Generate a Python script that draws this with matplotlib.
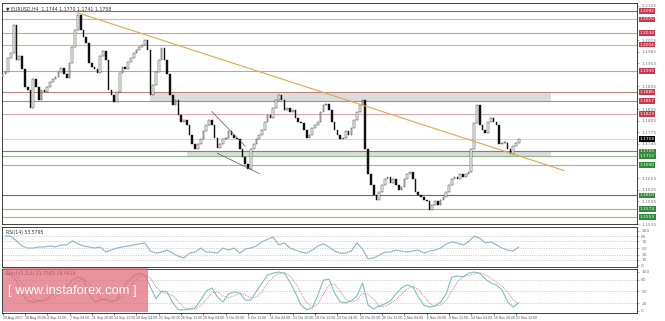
import matplotlib
matplotlib.use("Agg")
import matplotlib.pyplot as plt
import matplotlib.transforms as mtransforms
from matplotlib.patches import Rectangle

# EURUSD H4, one close every 2 bars
closes = [
    1.1926, 1.1933, 1.1970, 1.1983, 1.2056, 1.1965, 1.1973, 1.1939, 1.1894, 1.1886,
    1.1839, 1.1913, 1.1894, 1.1860, 1.1886, 1.1881, 1.1892, 1.1905, 1.1913, 1.1920,
    1.1933, 1.1944, 1.1926, 1.1918, 1.1957, 1.1999, 1.2043, 1.2082, 1.2043, 1.2025,
    1.2009, 1.1957, 1.1946, 1.1939, 1.1931, 1.1973, 1.1986, 1.1965, 1.1886, 1.1873,
    1.1855, 1.1881, 1.1931, 1.1946, 1.1939, 1.1959, 1.1970, 1.1983, 1.1991, 1.1999,
    1.2004, 1.2017, 1.1991, 1.1873, 1.1899, 1.1933, 1.1965, 1.1996, 1.1965, 1.1926,
    1.1873, 1.1847, 1.1860,
    1.1821, 1.1803, 1.1808, 1.1795, 1.1769, 1.1743, 1.1730, 1.1743, 1.1756,
    1.1777, 1.1795, 1.1808, 1.1795, 1.1761, 1.1735, 1.1743, 1.1756, 1.1761,
    1.1777, 1.1769, 1.1761, 1.1756, 1.1730, 1.1709, 1.1691, 1.1678, 1.1730,
    1.1743, 1.1756, 1.1769, 1.1782, 1.1803, 1.1821, 1.1813, 1.1839, 1.1860,
    1.1873, 1.1860, 1.1834, 1.1839, 1.1829, 1.1834, 1.1813, 1.1803, 1.1798,
    1.1782, 1.1761, 1.1769, 1.1787, 1.1795, 1.1803, 1.1829, 1.1847, 1.1850,
    1.1834, 1.1803, 1.1782, 1.1769, 1.1756, 1.1761, 1.1777, 1.1769, 1.1787,
    1.1808, 1.1829, 1.1847, 1.1860, 1.1730, 1.1665, 1.1638, 1.1612, 1.1599,
    1.1620, 1.1638, 1.1652, 1.1657, 1.1641, 1.1652, 1.1638, 1.1625, 1.1631,
    1.1652, 1.1665, 1.1672, 1.1652, 1.1620, 1.1612, 1.1605, 1.1599, 1.1594,
    1.1573, 1.1586, 1.1594, 1.1586, 1.1599, 1.1605, 1.1620, 1.1638, 1.1652,
    1.1657, 1.1652, 1.1665, 1.1657, 1.1665, 1.1672, 1.1730, 1.1800, 1.1847,
    1.1795, 1.1782, 1.1774, 1.1803, 1.1813, 1.1803, 1.1795, 1.1743, 1.1748,
    1.1748, 1.1730, 1.1717, 1.1738, 1.1748, 1.1758,
]
first_open = 1.1920

# one value every 4 bars
rsi = [85, 85, 71, 56, 50, 50, 53, 53, 56, 53, 59, 59, 71, 62, 56, 53, 50, 53, 38, 44,
       50, 53, 56, 59, 62, 65, 41, 35, 38, 44, 35, 26, 21, 35, 38, 50, 38, 38, 35, 50,
       44, 50, 35, 47, 50, 56, 68, 76, 82, 59, 65, 50, 44, 38, 35, 44, 56, 62, 53, 41,
       35, 35, 41, 65, 47, 18, 21, 29, 38, 38, 44, 41, 38, 41, 44, 35, 41, 44, 50, 62,
       68, 65, 59, 68, 85, 79, 65, 68, 59, 50, 44, 41, 53]
stoch_main = [97, 92, 77, 44, 26, 23, 26, 28, 38, 46, 51, 64, 79, 87, 82, 44, 23, 28, 31, 23,
              28, 59, 77, 90, 97, 92, 62, 31, 51, 49, 21, 3, 3, 5, 8, 28, 51, 59, 36, 23,
              44, 49, 46, 28, 28, 51, 72, 92, 97, 100, 97, 74, 46, 15, 3, 8, 41, 79, 82, 46,
              23, 21, 26, 38, 72, 15, 5, 13, 18, 26, 44, 59, 67, 62, 36, 15, 10, 13, 23, 44,
              87, 90, 87, 97, 100, 97, 82, 72, 67, 54, 23, 10, 21]
stoch_signal = [95, 95, 89, 71, 49, 31, 25, 26, 31, 37, 45, 54, 65, 77, 83, 71, 50, 32, 27, 27,
                27, 37, 55, 75, 88, 93, 84, 62, 48, 44, 40, 24, 9, 4, 5, 14, 29, 46, 49, 39,
                34, 39, 46, 41, 34, 36, 50, 72, 87, 96, 98, 90, 72, 45, 21, 9, 17, 43, 67, 69,
                50, 30, 23, 28, 45, 42, 31, 11, 12, 19, 29, 43, 57, 63, 55, 38, 20, 13, 15, 27,
                51, 74, 88, 91, 95, 98, 93, 84, 74, 64, 48, 29, 18]

date_labels = ["28 Aug 2017", "30 Aug 20:00", "4 Sep 12:00", "7 Sep 04:00", "11 Sep 20:00",
               "14 Sep 12:00", "19 Sep 04:00", "21 Sep 20:00", "26 Sep 12:00", "29 Sep 04:00",
               "3 Oct 20:00", "6 Oct 12:00", "11 Oct 04:00", "13 Oct 20:00", "18 Oct 12:00",
               "23 Oct 04:00", "25 Oct 20:00", "30 Oct 12:00", "2 Nov 04:00", "6 Nov 20:00",
               "9 Nov 12:00", "14 Nov 04:00", "16 Nov 20:00", "21 Nov 12:00"]

resistances = [1.2092, 1.2070, 1.2034, 1.2004, 1.1935, 1.1880, 1.1857, 1.1823]
res_colors = ["#c0505e", "#e2a9b1", "#d49aa2", "#e2a9b1", "#d49aa2", "#b9857c", "#b9857c", "#e2a9b1"]
supports = [1.1725, 1.1712, 1.1690, 1.1610, 1.1574, 1.1553]
sup_colors = ["#5b9a5b", "#8fbf8f", "#8fbf8f", "#3f8a3f", "#8fbf8f", "#8fbf8f"]
last_price = 1.1758
upper_zone = (1.1857, 1.1880)
lower_zone = (1.1712, 1.1725)
zone_starts = [53, 66]
zone_end = 196.5
trend_line = [(27.0, 1.2087), (201.2, 1.1675)]
channel_top = [(75.0, 1.1829), (87.0, 1.1738)]
channel_bottom = [(77.0, 1.1720), (92.0, 1.1667)]

fig = plt.figure(figsize=(6.65, 3.21), dpi=100)
ax = fig.add_axes([0.003, 0.302, 0.955, 0.689])
ax_rsi = fig.add_axes([0.003, 0.168, 0.955, 0.125])
ax_st = fig.add_axes([0.003, 0.025, 0.955, 0.137])

xmin, xmax = -0.2, 227.4
for a in (ax, ax_rsi, ax_st):
    a.set_xlim(xmin, xmax)
    for s in a.spines.values():
        s.set_linewidth(0.6)
        s.set_color("#222222")
    a.yaxis.tick_right()
    a.tick_params(axis="y", labelsize=3.2, length=1.5, width=0.4, pad=1.5, colors="#777777")
    a.tick_params(axis="x", length=0)
    a.set_xticks([])

# main panel
ax.set_ylim(1.1537, 1.2113)
labelled = resistances + supports + [last_price]
ticks = [1.1535 + 0.003 * i for i in range(20)]
ticks = [t for t in ticks if min(abs(t - p) for p in labelled) > 0.0011]
ax.set_yticks(ticks)
ax.set_yticklabels(["%.4f" % t for t in ticks])

ax.add_patch(Rectangle((zone_starts[0], upper_zone[0]), zone_end - zone_starts[0],
                       upper_zone[1] - upper_zone[0], fc="#dcdcdc", ec="none", zorder=1))
ax.add_patch(Rectangle((zone_starts[1], lower_zone[0]), zone_end - zone_starts[1],
                       lower_zone[1] - lower_zone[0], fc="#dcdcdc", ec="none", zorder=1))

for p, c in zip(resistances, res_colors):
    ax.axhline(p, color=c, lw=0.8, zorder=2)
for p, c in zip(supports, sup_colors):
    ax.axhline(p, color=c, lw=0.8, zorder=2)
ax.axhline(last_price, color="#d0d0d0", lw=0.6, zorder=2)

opens = [first_open] + closes[:-1]
for x, (o, c) in enumerate(zip(opens, closes)):
    lo, hi = min(o, c), max(o, c)
    face = "white" if c >= o else "#111111"
    ax.add_patch(Rectangle((x - 0.3, lo), 0.6, max(hi - lo, 0.00002), fc=face,
                           ec="#111111", lw=0.3, zorder=4))

ax.plot(*zip(*trend_line), color="#e0a850", lw=0.8, zorder=5)
ax.plot(*zip(*channel_top), color="#555555", lw=0.5, zorder=5)
ax.plot(*zip(*channel_bottom), color="#555555", lw=0.5, zorder=5)

blend = mtransforms.blended_transform_factory(ax.transAxes, ax.transData)
for p in resistances:
    ax.text(1.004, p, "%.4f" % p, transform=blend, fontsize=3.1, color="white", va="center",
            bbox=dict(boxstyle="square,pad=0.18", fc="#c8384e", ec="none"), zorder=6)
for p in supports:
    ax.text(1.004, p, "%.4f" % p, transform=blend, fontsize=3.1, color="white", va="center",
            bbox=dict(boxstyle="square,pad=0.18", fc="#2f8a3a", ec="none"), zorder=6)
ax.text(1.004, last_price, "%.4f" % last_price, transform=blend, fontsize=3.1, color="white",
        va="center", bbox=dict(boxstyle="square,pad=0.18", fc="black", ec="none"), zorder=6)
ax.text(0.006, 0.985, "\u25bc EURUSD,H4  1.1744 1.1770 1.1741 1.1758", transform=ax.transAxes,
        fontsize=3.3, color="#333333", va="top")

# RSI
ax_rsi.set_ylim(-5.9, 111.8)
rsi_levels = [0, 15, 30, 50, 70, 85, 100]
ax_rsi.set_yticks(rsi_levels)
ax_rsi.set_yticklabels([str(v) for v in rsi_levels])
for lv in rsi_levels[1:-1]:
    ax_rsi.axhline(lv, color="#b0b0b0", lw=0.5, ls=(0, (1, 1.5)))
rx = [2 * i + 1 for i in range(len(rsi))]
ax_rsi.plot(rx, rsi, color="#8fb3c9", lw=0.8)
ax_rsi.text(0.006, 0.93, "RSI(14) 53.5795", transform=ax_rsi.transAxes, fontsize=3.3,
            color="#333333", va="top")

# Stochastic
ax_st.set_ylim(-5.1, 107.7)
st_levels = [0, 20, 50, 80, 100]
ax_st.set_yticks(st_levels)
ax_st.set_yticklabels([str(v) for v in st_levels])
for lv in (20, 50, 80):
    ax_st.axhline(lv, color="#b0b0b0", lw=0.5, ls=(0, (1, 1.5)))
ax_st.plot(rx, stoch_signal, color="#d06070", lw=0.6, ls=(0, (1, 1.2)))
ax_st.plot(rx, stoch_main, color="#7fbfc0", lw=0.8)
ax_st.text(0.006, 0.95, "Stoch(5,3,3) 21.7583 18.4616", transform=ax_st.transAxes,
           fontsize=3.3, color="#333333", va="top")

ax_st.set_xticks([8 * j for j in range(len(date_labels))])
ax_st.set_xticklabels(date_labels, fontsize=2.5, family="Liberation Sans", color="#555555",
                      ha="left")
ax_st.tick_params(axis="x", length=1.5, width=0.4, pad=1)

# watermark
fig.patches.append(Rectangle((0.004, 0.028), 0.218, 0.137, transform=fig.transFigure,
                             fc="#e06a78", ec="none", alpha=0.72, zorder=10))
fig.text(0.012, 0.092, "[ www.instaforex.com ]", fontsize=9.3, family="Liberation Sans",
         color="white", va="center", ha="left", zorder=11)

fig.savefig("out.png", dpi=100)
